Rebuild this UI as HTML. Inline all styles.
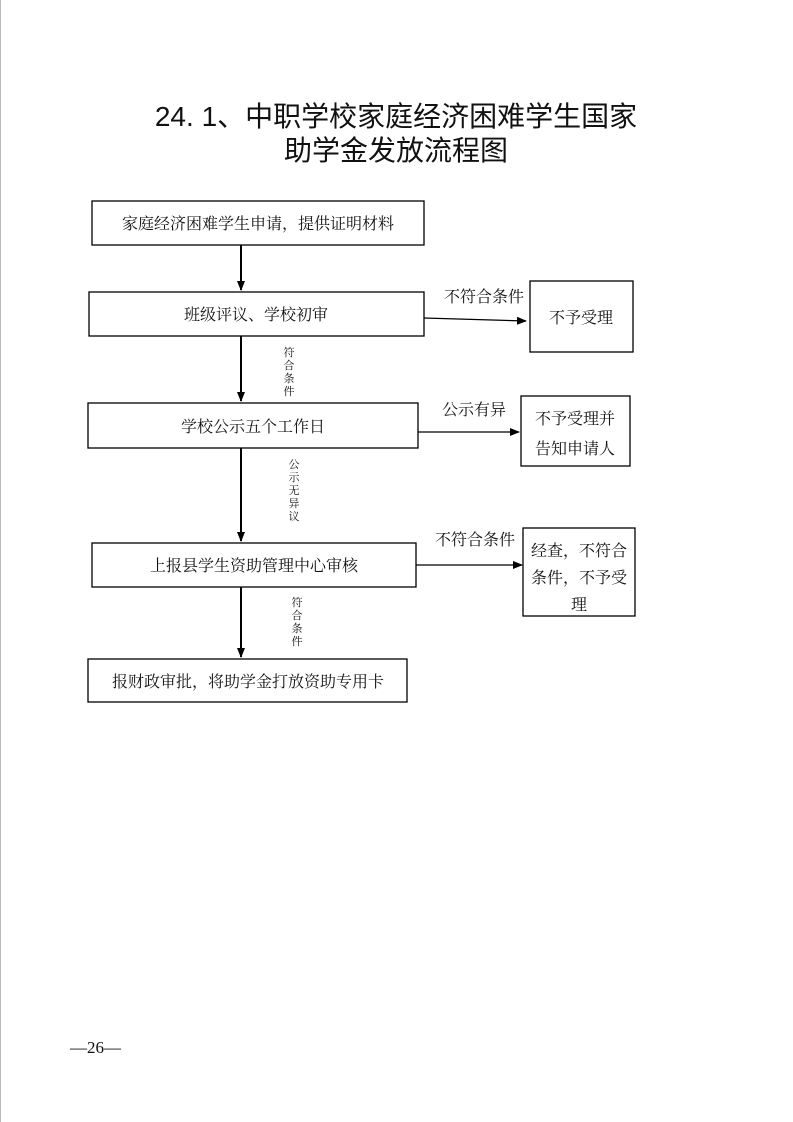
<!DOCTYPE html>
<html><head><meta charset="utf-8"><style>
html,body{margin:0;padding:0;background:#fff}
svg{display:block}
text{font-family:"Liberation Serif","Noto Serif CJK SC","Noto Sans CJK SC",serif;fill:#111}
.t{font-family:"Liberation Sans","Noto Sans CJK SC",sans-serif}
</style></head><body>
<svg width="793" height="1122" viewBox="0 0 793 1122" xmlns="http://www.w3.org/2000/svg">
<defs><marker id="a" markerWidth="10" markerHeight="10" refX="9" refY="5" orient="auto" markerUnits="userSpaceOnUse"><path d="M0,1 L10,5 L0,9 z" fill="#000"/></marker></defs>
<line x1="0.5" y1="0" x2="0.5" y2="1122" stroke="#bbb"/>
<text class="t" x="396" y="126" font-size="28" text-anchor="middle">24. 1、中职学校家庭经济困难学生国家</text>
<text class="t" x="396" y="160" font-size="28" text-anchor="middle">助学金发放流程图</text>
<g fill="none" stroke="#000" stroke-width="1.3">
<rect x="92" y="201" width="332" height="44"/>
<rect x="89" y="292" width="335" height="44"/>
<rect x="88" y="403" width="330" height="45"/>
<rect x="92" y="543" width="324" height="44"/>
<rect x="88" y="659" width="319" height="43"/>
<rect x="530" y="281" width="103" height="71"/>
<rect x="521" y="396" width="109" height="70"/>
<rect x="523" y="528" width="112" height="88"/>
</g>
<g stroke="#000" stroke-width="2" marker-end="url(#a)">
<line x1="241" y1="245" x2="241" y2="290"/>
<line x1="241" y1="336" x2="241" y2="401"/>
<line x1="241" y1="448" x2="241" y2="541"/>
<line x1="241" y1="587" x2="241" y2="657"/>
</g>
<g stroke="#000" stroke-width="1.2" marker-end="url(#a)">
<line x1="424" y1="318" x2="526" y2="321"/>
<line x1="418" y1="432" x2="519" y2="432"/>
<line x1="416" y1="565" x2="522" y2="565"/>
</g>
<g font-size="16" text-anchor="middle">
<text x="258" y="229">家庭经济困难学生申请，提供证明材料</text>
<text x="256" y="320">班级评议、学校初审</text>
<text x="253" y="432">学校公示五个工作日</text>
<text x="254" y="571">上报县学生资助管理中心审核</text>
<text x="248" y="687">报财政审批，将助学金打放资助专用卡</text>
<text x="581" y="323">不予受理</text>
<text x="575" y="424">不予受理并</text>
<text x="575" y="454">告知申请人</text>
<text x="579" y="556">经查，不符合</text>
<text x="579" y="583">条件，不予受</text>
<text x="579" y="610">理</text>
<text x="484" y="302">不符合条件</text>
<text x="474" y="415">公示有异</text>
<text x="475" y="545">不符合条件</text>
</g>
<g font-size="11" text-anchor="middle">
<text x="289" y="356">符</text><text x="289" y="369">合</text><text x="289" y="382">条</text><text x="289" y="395">件</text>
<text x="294" y="468">公</text><text x="294" y="481">示</text><text x="294" y="494">无</text><text x="294" y="507">异</text><text x="294" y="520">议</text>
<text x="297" y="606">符</text><text x="297" y="619">合</text><text x="297" y="632">条</text><text x="297" y="645">件</text>
</g>
<text x="70" y="1053" font-size="17">—26—</text>
</svg>
</body></html>
